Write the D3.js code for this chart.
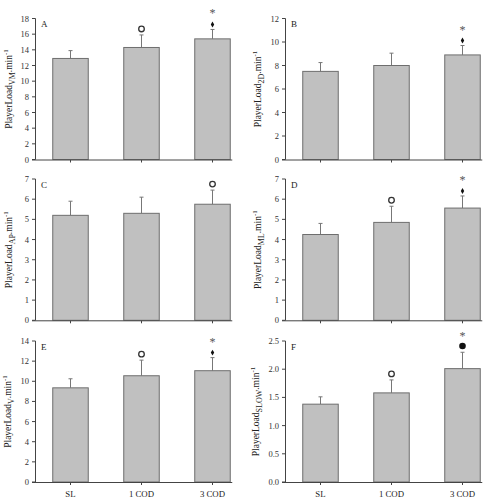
<!DOCTYPE html>
<html><head><meta charset="utf-8">
<script src="https://cdn.jsdelivr.net/npm/d3@7"></script>
<style>body{margin:0;background:#fff}svg{display:block}</style>
</head><body>
<script>
const categories = ["SL", "1 COD", "3 COD"];
const panelLetters = ["A", "B", "C", "D", "E", "F"];
const subscripts = ["VM", "2D", "AP", "ML", "V", "SLOW"];
const yMaxes = [18, 12, 7, 7, 14, 2.5];
const tickSteps = [2, 2, 1, 1, 2, 0.5];
const means = [
  [12.9, 14.3, 15.4],
  [7.5, 8.0, 8.9],
  [5.2, 5.3, 5.75],
  [4.25, 4.85, 5.56],
  [9.35, 10.55, 11.05],
  [1.38, 1.58, 2.01]
];
const sds = [
  [1.0, 1.6, 1.2],
  [0.75, 1.05, 0.8],
  [0.7, 0.8, 0.7],
  [0.55, 0.8, 0.6],
  [0.9, 1.55, 1.3],
  [0.13, 0.23, 0.29]
];
const markers = [
  [[], ["circle"], ["diamond", "asterisk"]],
  [[], [], ["diamond", "asterisk"]],
  [[], [], ["circle"]],
  [[], ["circle"], ["diamond", "asterisk"]],
  [[], ["circle"], ["diamond", "asterisk"]],
  [[], ["circle"], ["dot", "asterisk"]]
];

const W = 483, H = 501;
const svg = d3.select("body").append("svg").attr("width", W).attr("height", H);
const colLeft = [35, 285];
const rowTB = [[18.5, 159.5], [179, 320.3], [341, 482]];
const titleX = [[12, 261], [12, 261], [11, 259]];
const bandW = 213;
const font = "'Liberation Serif', 'Times New Roman', serif";
const axisCol = "#444";

panelLetters.forEach((letter, i) => {
  const col = i % 2, row = Math.floor(i / 2);
  const left = colLeft[col];
  const [top, bottom] = rowTB[row];
  const g = svg.append("g");
  const x = d3.scaleBand().domain(categories).range([left, left + bandW]).paddingInner(0.5).paddingOuter(0.25);
  const y = d3.scaleLinear().domain([0, yMaxes[i]]).range([bottom, top]);
  const ticks = d3.range(0, yMaxes[i] + tickSteps[i] / 2, tickSteps[i]);
  const fmt = tickSteps[i] < 1 ? d3.format(".1f") : d3.format("d");

  categories.forEach((c, j) => {
    const cx = x(c) + x.bandwidth() / 2;
    const yt = y(means[i][j] + sds[i][j]);
    g.append("line").attr("x1", cx).attr("x2", cx).attr("y1", y(means[i][j])).attr("y2", yt)
      .attr("stroke", "#777").attr("stroke-width", 1);
    g.append("line").attr("x1", cx - 2).attr("x2", cx + 2).attr("y1", yt).attr("y2", yt)
      .attr("stroke", "#777").attr("stroke-width", 1);
    g.append("rect").attr("x", x(c)).attr("y", y(means[i][j]))
      .attr("width", x.bandwidth()).attr("height", bottom - y(means[i][j]))
      .attr("fill", "#c0c0c0").attr("stroke", "#6e6e6e").attr("stroke-width", 1);
    markers[i][j].forEach(m => {
      if (m === "circle") {
        g.append("circle").attr("cx", cx).attr("cy", yt - 6).attr("r", 2.8)
          .attr("fill", "none").attr("stroke", "#333").attr("stroke-width", 1.3);
      } else if (m === "dot") {
        g.append("circle").attr("cx", cx).attr("cy", yt - 6.3).attr("r", 3.3).attr("fill", "#111");
      } else if (m === "diamond") {
        g.append("path").attr("d", d3.symbol(d3.symbolDiamond, 10)())
          .attr("transform", `translate(${cx},${yt - 5})`).attr("fill", "#111");
      } else if (m === "asterisk") {
        g.append("text").attr("x", cx).attr("y", yt - 18.5 + 6.5).attr("text-anchor", "middle")
          .attr("font-family", font).attr("font-size", 12).attr("fill", "#555").text("*");
      }
    });
  });

  g.append("line").attr("x1", left + 0.5).attr("x2", left + 0.5).attr("y1", top).attr("y2", bottom)
    .attr("stroke", axisCol).attr("stroke-width", 1);
  ticks.forEach(t => {
    g.append("line").attr("x1", left - 3).attr("x2", left + 0.5).attr("y1", y(t)).attr("y2", y(t))
      .attr("stroke", axisCol).attr("stroke-width", 1);
    g.append("text").attr("x", left - 6).attr("y", y(t) + 3).attr("text-anchor", "end")
      .attr("font-family", font).attr("font-size", 8.5).attr("fill", "#333").text(fmt(t));
  });
  const lastBarRight = x(categories[categories.length - 1]) + x.bandwidth();
  g.append("line").attr("x1", left - 3).attr("x2", Math.min(lastBarRight + 2, W)).attr("y1", bottom + 0.5).attr("y2", bottom + 0.5)
    .attr("stroke", axisCol).attr("stroke-width", 1);
  categories.forEach(c => {
    const cx = x(c) + x.bandwidth() / 2;
    g.append("line").attr("x1", cx).attr("x2", cx).attr("y1", bottom + 0.5).attr("y2", bottom + 3)
      .attr("stroke", axisCol).attr("stroke-width", 1);
    if (row === 2) {
      g.append("text").attr("x", cx).attr("y", bottom + 15).attr("text-anchor", "middle")
        .attr("font-family", font).attr("font-size", 8.8).attr("fill", "#222").text(c);
    }
  });

  g.append("text").attr("x", left + 6).attr("y", top + 8.5).attr("font-family", font)
    .attr("font-size", 9).attr("fill", "#222").text(letter);

  const tx = titleX[row][col], ty = (top + bottom) / 2;
  const t = g.append("text").attr("transform", `translate(${tx},${ty}) rotate(-90)`)
    .attr("text-anchor", "middle").attr("font-family", font).attr("font-size", 9.5).attr("fill", "#222");
  t.append("tspan").text("PlayerLoad");
  t.append("tspan").attr("font-size", 8).attr("dy", 2.5).text(subscripts[i]);
  t.append("tspan").attr("dy", -2.5).text(".min");
  t.append("tspan").attr("font-size", 7).attr("dy", -4).text("-1");
});
</script>
</body></html>
